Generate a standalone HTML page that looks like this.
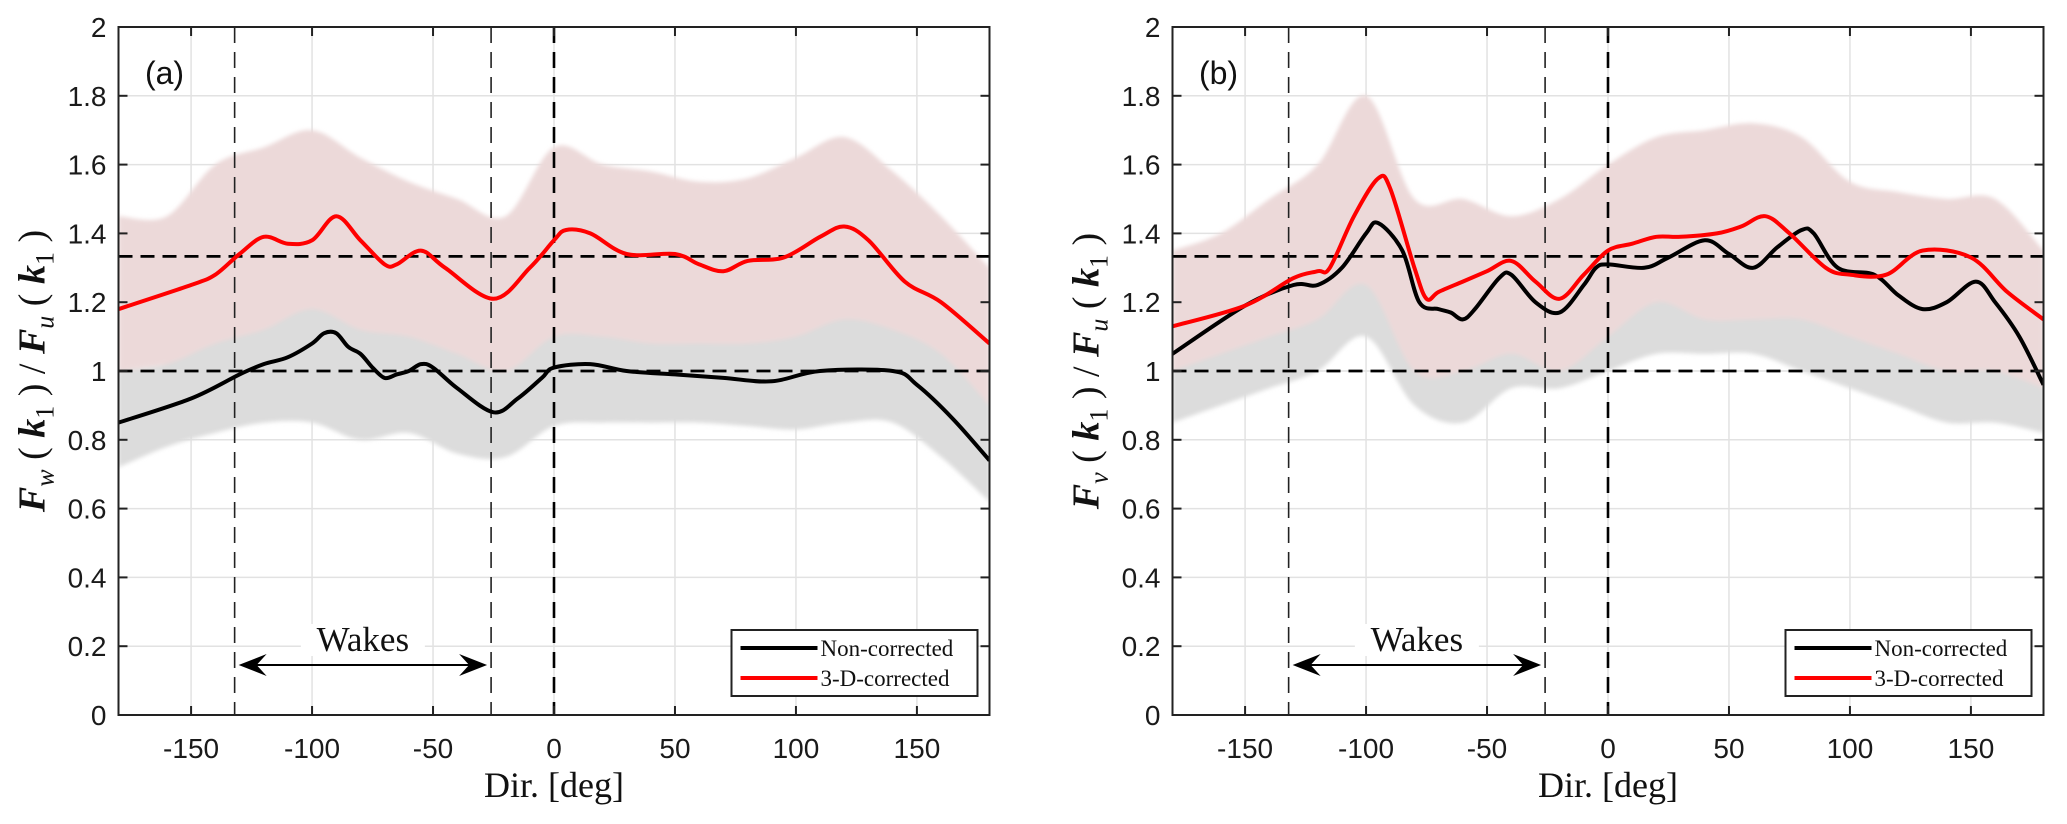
<!DOCTYPE html>
<html><head><meta charset="utf-8">
<style>
html,body{margin:0;padding:0;background:#fff;}
svg{display:block;}
text{font-family:"Liberation Sans",sans-serif;}
.serif{font-family:"Liberation Serif",serif;}
</style></head>
<body>
<svg id="fig" width="2067" height="824" viewBox="0 0 2067 824" xmlns="http://www.w3.org/2000/svg"></svg>
<script>
// ---- data ----
const xTicks = [-150,-100,-50,0,50,100,150];
const yTicks = [0,0.2,0.4,0.6,0.8,1,1.2,1.4,1.6,1.8,2];
const yTickLabels = ["0","0.2","0.4","0.6","0.8","1","1.2","1.4","1.6","1.8","2"];
const wakeBounds = [-132,-26];
const refLevels = [1.3333,1];
const legendLabels = ["Non-corrected","3-D-corrected"];

const aBlackX = [-180,-150,-130,-120,-110,-100,-95,-90,-85,-80,-75,-70,-65,-60,-55,-50,-40,-25,-15,-5,0,15,30,50,70,90,110,140,150,165,180];
const aBlackY = [0.85,0.92,0.99,1.02,1.04,1.08,1.11,1.11,1.07,1.05,1.01,0.98,0.99,1.00,1.02,1.01,0.95,0.88,0.92,0.98,1.01,1.02,1.00,0.99,0.98,0.97,1.00,1.00,0.96,0.86,0.74];
const aRedX = [-180,-150,-140,-130,-120,-110,-100,-90,-80,-70,-65,-55,-45,-25,-10,0,5,15,30,50,60,70,80,95,110,120,130,145,160,180];
const aRedY = [1.18,1.25,1.28,1.34,1.39,1.37,1.38,1.45,1.38,1.31,1.31,1.35,1.30,1.21,1.30,1.38,1.41,1.40,1.34,1.34,1.31,1.29,1.32,1.33,1.39,1.42,1.38,1.26,1.20,1.08];
const bBlackX = [-180,-150,-130,-120,-110,-100,-95,-85,-78,-70,-65,-60,-55,-45,-40,-30,-20,-10,-5,0,15,25,40,50,60,70,80,85,95,110,120,130,140,152,160,170,180];
const bBlackY = [1.05,1.19,1.25,1.25,1.30,1.40,1.43,1.35,1.20,1.18,1.17,1.15,1.18,1.27,1.28,1.20,1.17,1.25,1.30,1.31,1.30,1.33,1.38,1.34,1.30,1.36,1.41,1.40,1.30,1.28,1.22,1.18,1.20,1.26,1.20,1.10,0.96];
const bRedX = [-180,-150,-130,-120,-115,-105,-95,-90,-80,-75,-70,-60,-50,-40,-30,-20,-10,0,10,20,30,45,55,65,75,90,100,115,130,150,165,180];
const bRedY = [1.13,1.19,1.27,1.29,1.30,1.45,1.56,1.53,1.30,1.21,1.23,1.26,1.29,1.32,1.26,1.21,1.28,1.35,1.37,1.39,1.39,1.40,1.42,1.45,1.40,1.30,1.28,1.28,1.35,1.33,1.23,1.15];

const envX = [-180,-160,-140,-120,-100,-80,-60,-40,-20,0,20,40,60,80,100,120,140,160,180];
const aPinkTop = [1.45,1.45,1.60,1.65,1.70,1.62,1.55,1.50,1.45,1.65,1.60,1.58,1.55,1.56,1.62,1.68,1.58,1.45,1.30];
const aPinkBot = [1.00,1.02,1.05,1.08,1.10,1.05,1.05,1.02,0.98,1.05,1.05,1.05,1.05,1.05,1.08,1.10,1.05,1.00,0.90];
const aGrayTop = [1.00,1.02,1.08,1.12,1.18,1.12,1.10,1.05,1.00,1.10,1.10,1.08,1.08,1.08,1.10,1.15,1.12,1.05,0.90];
const aGrayBot = [0.72,0.78,0.82,0.85,0.85,0.80,0.82,0.76,0.75,0.84,0.85,0.85,0.85,0.84,0.83,0.85,0.85,0.75,0.62];
const bPinkTop = [1.35,1.40,1.50,1.60,1.80,1.50,1.50,1.45,1.50,1.60,1.68,1.70,1.72,1.68,1.55,1.52,1.50,1.50,1.35];
const bPinkBot = [1.00,1.05,1.10,1.15,1.25,1.00,1.00,1.05,1.00,1.10,1.20,1.15,1.15,1.15,1.10,1.05,1.00,1.00,0.95];
const bGrayTop = [1.10,1.15,1.20,1.22,1.30,1.10,1.05,1.10,1.10,1.15,1.20,1.20,1.20,1.20,1.15,1.10,1.05,1.05,1.00];
const bGrayBot = [0.85,0.90,0.95,1.00,1.10,0.90,0.85,0.95,0.95,1.00,1.05,1.05,1.05,1.00,0.95,0.90,0.85,0.85,0.82];

// ---- helpers ----
const NS = "http://www.w3.org/2000/svg";
const svg = document.getElementById('fig');
function mk(tag, attrs, parent){
  const e = document.createElementNS(NS, tag);
  for (const k in attrs) e.setAttribute(k, attrs[k]);
  (parent||svg).appendChild(e);
  return e;
}
function smoothPath(pts){
  let d = "M"+pts[0][0].toFixed(1)+","+pts[0][1].toFixed(1);
  for (let i=0;i<pts.length-1;i++){
    const p0=pts[Math.max(0,i-1)], p1=pts[i], p2=pts[i+1], p3=pts[Math.min(pts.length-1,i+2)];
    const c1=[p1[0]+(p2[0]-p0[0])/6, p1[1]+(p2[1]-p0[1])/6];
    const c2=[p2[0]-(p3[0]-p1[0])/6, p2[1]-(p3[1]-p1[1])/6];
    d += " C"+c1[0].toFixed(1)+","+c1[1].toFixed(1)+" "+c2[0].toFixed(1)+","+c2[1].toFixed(1)+" "+p2[0].toFixed(1)+","+p2[1].toFixed(1);
  }
  return d;
}

function panel(cfg){
  const L=cfg.left, R=cfg.left+871, T=27, B=715;
  const sx = v => L + (v+180)/360*(R-L);
  const sy = v => B - v/2*(B-T);
  const g = mk('g',{});
  
  
  const defs = mk('defs',{},g);
  const cp = mk('clipPath',{id:'clip-'+cfg.id},defs);
  mk('rect',{x:L,y:T,width:R-L,height:B-T},cp);
  const blur = mk('filter',{id:'blur-'+cfg.id},defs);
  mk('feGaussianBlur',{stdDeviation:'2'},blur);
  xTicks.forEach(t=>{
    const l = mk('line',{x1:sx(t),x2:sx(t),y1:T,y2:B,stroke:'#e2e2e2','stroke-width':1.5},g);
    
    
  });
  yTicks.forEach(t=>{
    const l = mk('line',{x1:L,x2:R,y1:sy(t),y2:sy(t),stroke:'#e2e2e2','stroke-width':1.5},g);
    
    
  });
  const sc = mk('g',{'clip-path':'url(#clip-'+cfg.id+')',filter:'url(#blur-'+cfg.id+')'},g);
  
  
  function band(top,bot,color,name){
    const up = envX.map((x,i)=>[sx(x),sy(top[i])]);
    const dn = envX.map((x,i)=>[sx(x),sy(bot[i])]).reverse();
    const d = smoothPath(up)+" L"+smoothPath(dn).slice(1)+" Z";
    const p = mk('path',{d:d,fill:color},sc);
    
    
  }
  cfg.bands.forEach(b=>band(b[0],b[1],b[2],b[3]));
  refLevels.forEach(v=>{
    const l = mk('line',{x1:L,x2:R,y1:sy(v),y2:sy(v),stroke:'#000','stroke-width':2.8,'stroke-dasharray':'14 8'},g);
    
    
  });
  wakeBounds.forEach(v=>{
    const l = mk('line',{x1:sx(v),x2:sx(v),y1:T,y2:B,stroke:'#222','stroke-width':1.6,'stroke-dasharray':'16 9'},g);
    
    
  });
  const z = mk('line',{x1:sx(0),x2:sx(0),y1:T,y2:B,stroke:'#000','stroke-width':2.6,'stroke-dasharray':'16 9'},g);
  
  
  const cl = mk('g',{'clip-path':'url(#clip-'+cfg.id+')'},g);
  const pb = mk('path',{d:smoothPath(cfg.bx.map((x,i)=>[sx(x),sy(cfg.by[i])])),fill:'none',stroke:'#000','stroke-width':4,'stroke-linejoin':'round'},cl);
  
  
  const pr = mk('path',{d:smoothPath(cfg.rx.map((x,i)=>[sx(x),sy(cfg.ry[i])])),fill:'none',stroke:'#ff0000','stroke-width':4,'stroke-linejoin':'round'},cl);
  
  
  const box = mk('rect',{x:L,y:T,width:R-L,height:B-T,fill:'none',stroke:'#222','stroke-width':2},g);
  
  
  xTicks.forEach(t=>{
    mk('line',{x1:sx(t),x2:sx(t),y1:B,y2:B-9,stroke:'#222','stroke-width':2},g);
    mk('line',{x1:sx(t),x2:sx(t),y1:T,y2:T+9,stroke:'#222','stroke-width':2},g);
    const tx = mk('text',{x:sx(t),y:758,'text-anchor':'middle','font-size':28,fill:'#1a1a1a'},g);
    tx.textContent = t;
    
    
  });
  yTicks.forEach((t,i)=>{
    mk('line',{x1:L,x2:L+9,y1:sy(t),y2:sy(t),stroke:'#222','stroke-width':2},g);
    mk('line',{x1:R,x2:R-9,y1:sy(t),y2:sy(t),stroke:'#222','stroke-width':2},g);
    const tx = mk('text',{x:L-12,y:sy(t)+10,'text-anchor':'end','font-size':28,fill:'#1a1a1a'},g);
    tx.textContent = yTickLabels[i];
    
    
  });
  const pl = mk('text',{x:L+46,y:84,'text-anchor':'middle','font-size':32,fill:'#111'},g);
  pl.textContent = cfg.label;
  
  
  const xt = mk('text',{x:(L+R)/2,y:797,'text-anchor':'middle','font-size':36,'class':'serif',fill:'#111'},g);
  xt.textContent = "Dir.  [deg]";
  xt.setAttribute('xml:space','preserve');
  
  
  const yt = mk('text',{x:0,y:0,'text-anchor':'middle','font-size':38,'class':'serif',fill:'#111',transform:'translate('+(cfg.left-74)+',371) rotate(-90)'},g);
  yt.setAttribute('xml:space','preserve');
  yt.innerHTML = '<tspan font-style="italic" font-weight="bold">F</tspan><tspan font-style="italic" font-size="26" dy="9">'+cfg.sub+'</tspan><tspan dy="-9"> ( </tspan><tspan font-style="italic" font-weight="bold">k</tspan><tspan font-size="26" dy="9">1</tspan><tspan dy="-9"> ) / </tspan><tspan font-style="italic" font-weight="bold">F</tspan><tspan font-style="italic" font-size="26" dy="9">u</tspan><tspan dy="-9"> ( </tspan><tspan font-style="italic" font-weight="bold">k</tspan><tspan font-size="26" dy="9">1</tspan><tspan dy="-9"> )</tspan>';
  
  
  const ay = 665;
  const x1 = sx(wakeBounds[0])+4, x2 = sx(wakeBounds[1])-4;
  const ar = mk('g',{},g);
  
  
  mk('line',{x1:x1+10,x2:x2-10,y1:ay,y2:ay,stroke:'#000','stroke-width':2},ar);
  mk('path',{d:'M'+x1+','+ay+' L'+(x1+28)+','+(ay-11)+' L'+(x1+18)+','+ay+' L'+(x1+28)+','+(ay+11)+' Z',fill:'#000'},ar);
  mk('path',{d:'M'+x2+','+ay+' L'+(x2-28)+','+(ay-11)+' L'+(x2-18)+','+ay+' L'+(x2-28)+','+(ay+11)+' Z',fill:'#000'},ar);
  mk('rect',{x:(x1+x2)/2-62,y:624,width:124,height:32,fill:'#fff'},g);
  const wt = mk('text',{x:(x1+x2)/2,y:651,'text-anchor':'middle','font-size':35,'class':'serif',fill:'#111'},g);
  wt.textContent = "Wakes";
  
  
  const lg = mk('g',{},g);
  
  
  const lx = R-258, ly = 630;
  mk('rect',{x:lx,y:ly,width:246,height:66,fill:'#fff',stroke:'#222','stroke-width':2},lg);
  const colors = ['#000','#ff0000'];
  legendLabels.forEach((s,i)=>{
    const yy = ly+18+i*30;
    mk('line',{x1:lx+9,x2:lx+86,y1:yy,y2:yy,stroke:colors[i],'stroke-width':4},lg);
    const t = mk('text',{x:lx+89,y:yy+8,'font-size':23,'class':'serif',fill:'#111'},lg);
    t.textContent = s;
    
    
  });
}

panel({id:'a',left:118.5,label:'(a)',sub:'w',bx:aBlackX,by:aBlackY,rx:aRedX,ry:aRedY,
  bands:[[aPinkTop,aPinkBot,'#ecd9d9','pink-cloud'],[aGrayTop,aGrayBot,'#dcdcdc','gray-cloud']]});
panel({id:'b',left:1172.5,label:'(b)',sub:'v',bx:bBlackX,by:bBlackY,rx:bRedX,ry:bRedY,
  bands:[[bGrayTop,bGrayBot,'#dcdcdc','gray-cloud'],[bPinkTop,bPinkBot,'#ecd9d9','pink-cloud']]});
</script>
</body></html>
